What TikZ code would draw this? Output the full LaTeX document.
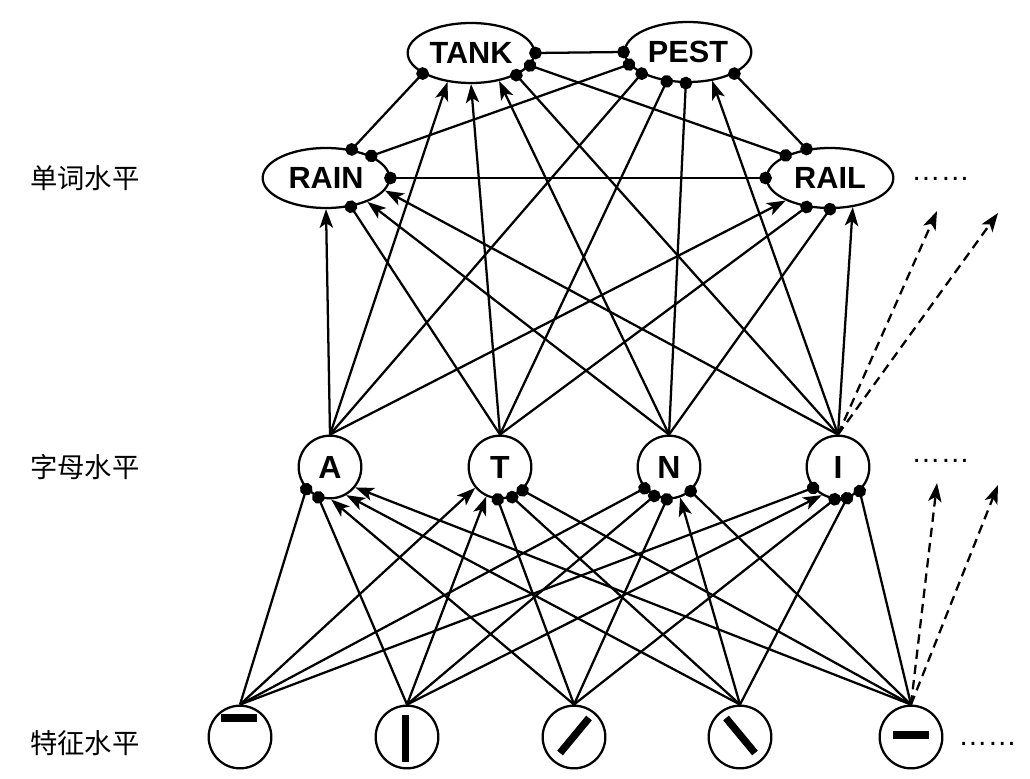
\documentclass[tikz,border=0pt]{standalone}
\usepackage{fontspec}
\setmainfont{Liberation Sans}
\newfontfamily\cjkfont{Noto Sans CJK SC}
\usetikzlibrary{arrows.meta,shapes.geometric,calc}
\tikzset{
  conn/.style={line width=1.7pt},
  exc/.style={conn,-{Stealth[length=14pt,width=10pt,inset=3.5pt]}},
  inh/.style={conn,-{Circle[length=9.5pt]},shorten >=-4.75pt},
  inhboth/.style={conn,{Circle[length=9.5pt]}-{Circle[length=9.5pt]},shorten >=-4.75pt,shorten <=-4.75pt},
  dexc/.style={conn,dashed,dash pattern=on 7pt off 4.5pt,-{Stealth[length=14pt,width=10pt,inset=3.5pt]}},
  word/.style={ellipse,draw,line width=1.7pt,minimum width=95pt,minimum height=45pt,inner sep=0pt,
    font=\bfseries\fontsize{23pt}{24pt}\selectfont},
  letter/.style={circle,draw,line width=1.7pt,minimum size=47pt,inner sep=0pt,
    font=\bfseries\fontsize{24pt}{26pt}\selectfont},
  feat/.style={circle,draw,line width=1.7pt,minimum size=47pt,inner sep=0pt},
  lvl/.style={anchor=west,inner sep=0pt,font=\cjkfont\fontsize{20.5pt}{22pt}\selectfont},
  more/.style={anchor=base west,inner sep=0pt,font=\fontsize{22pt}{24pt}\selectfont},
  bar/.style={line width=5.5pt}
}
\begin{document}
\begin{tikzpicture}[x=0.75pt,y=-0.75pt]
\useasboundingbox (0,0) rectangle (1030,778);
\fill[white] (0,0) rectangle (1030,778);

% level labels
\node[lvl] (l1) at (30,178) {单词水平};
\node[lvl] (l2) at (30,467) {字母水平};
\node[lvl] (l3) at (30,743) {特征水平};

% word level
\node[word] (tank) at (471,53) {TANK};
\node[word] (pest) at (688,52) {PEST};
\node[word] (rain) at (326,178) {RAIN};
\node[word] (rail) at (830,178) {RAIL};

% letter level
\node[letter] (la) at (330,467) {A};
\node[letter] (lt) at (500,467) {T};
\node[letter] (ln) at (669,467) {N};
\node[letter] (li) at (838,467) {I};

% feature level
\node[feat] (f1) at (240,737) {};
\node[feat] (f2) at (407,737) {};
\node[feat] (f3) at (574,737) {};
\node[feat] (f4) at (740,737) {};
\node[feat] (f5) at (911,737) {};
\fill (221,714) rectangle (257,722);
\fill (402,715) rectangle (409,762);
\draw[bar] (560,753) -- (589,718);
\draw[bar] (726,718) -- (755,753);
\fill (893,731) rectangle (929,739);

% ellipses
\node[more] (m1) at (911,180) {……};
\node[more] (m2) at (911,462) {……};
\node[more] (m3) at (958,745) {……};

% word-word inhibition
\draw[inhboth] (tank.east) -- (pest.west);
\draw[inhboth] (rain.east) -- (rail.west);
\draw[inhboth] (tank.-157.6) -- (rain.48.4);
\draw[inhboth] (tank.-12) -- (rail.153);
\draw[inhboth] (pest.-168) -- (rain.26.6);
\draw[inhboth] (pest.-25.5) -- (rail.129.4);

% letter -> word
\draw[exc] (la.north) -- (rain.-90);
\draw[exc] (la.north) -- (tank.-129);
\draw[inh] (la.north) -- (pest.-155.5);
\draw[exc] (la.north) -- (rail.-153.4);
\draw[inh] (lt.north) -- (rain.-49.4);
\draw[exc] (lt.north) -- (tank.-90);
\draw[inh] (lt.north) -- (pest.-126);
\draw[inh] (lt.north) -- (rail.-129.4);
\draw[exc] (ln.north) -- (rain.-30);
\draw[exc] (ln.north) -- (tank.-45);
\draw[inh] (ln.north) -- (pest.-94);
\draw[inh] (ln.north) -- (rail.-90);
\draw[exc] (li.north) -- (rain.-12.4);
\draw[inh] (li.north) -- (tank.-26.6);
\draw[exc] (li.north) -- (pest.-50.4);
\draw[exc] (li.north) -- (rail.-52.5);

% feature -> letter
\draw[inh] (f1.north) -- (la.-137);
\draw[exc] (f1.north) -- (lt.-140);
\draw[inh] (f1.north) -- (ln.-139);
\draw[inh] (f1.north) -- (li.-140);
\draw[inh] (f2.north) -- (la.-111);
\draw[exc] (f2.north) -- (lt.-115);
\draw[inh] (f2.north) -- (ln.-117);
\draw[exc] (f2.north) -- (li.-120);
\draw[exc] (f3.north) -- (la.-88);
\draw[inh] (f3.north) -- (lt.-94);
\draw[inh] (f3.north) -- (ln.-94);
\draw[inh] (f3.north) -- (li.-96);
\draw[exc] (f4.north) -- (la.-60);
\draw[inh] (f4.north) -- (lt.-68);
\draw[exc] (f4.north) -- (ln.-70);
\draw[inh] (f4.north) -- (li.-74);
\draw[exc] (f5.north) -- (la.-39);
\draw[inh] (f5.north) -- (lt.-46);
\draw[inh] (f5.north) -- (ln.-48);
\draw[inh] (f5.north) -- (li.-48);

% dashed continuations
\coordinate (d1) at (937,211);
\coordinate (d2) at (998,213);
\coordinate (d3) at (937,483);
\coordinate (d4) at (998,485);
\draw[dexc] (li.north) -- (d1);
\draw[dexc] (li.north) -- (d2);
\draw[dexc] (f5.north) -- (d3);
\draw[dexc] (f5.north) -- (d4);
\end{tikzpicture}
\end{document}
